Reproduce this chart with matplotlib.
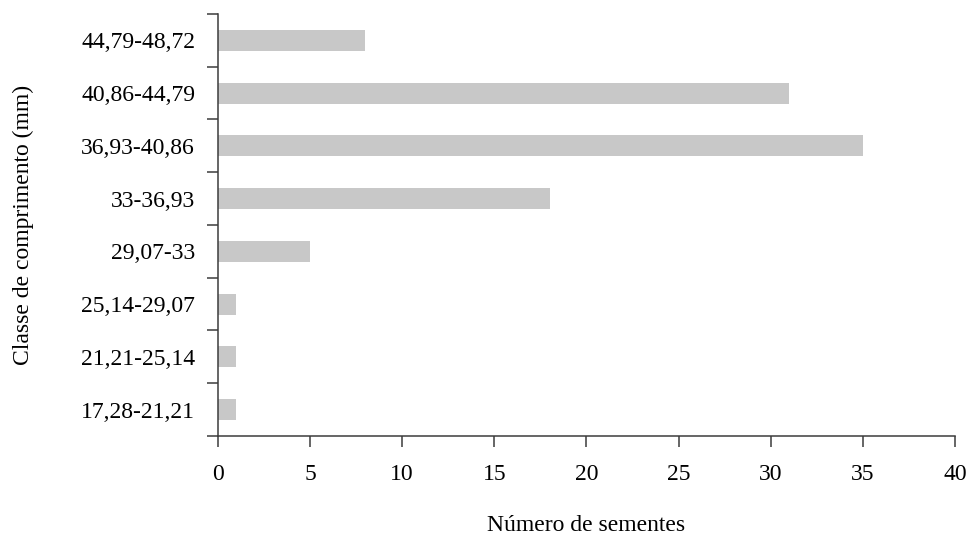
import numpy as np
import matplotlib.pyplot as plt

# classes de comprimento e contagem de sementes
classes = ["17,28-21,21", "21,21-25,14", "25,14-29,07", "29,07-33",
           "33-36,93", "36,93-40,86", "40,86-44,79", "44,79-48,72"]
sementes = [1, 1, 1, 5, 18, 35, 31, 8]
xticks = [0, 5, 10, 15, 20, 25, 30, 35, 40]

plt.rcParams['font.family'] = ['Liberation Serif', 'DejaVu Serif']
fontsize = 17
spine_color = "#3c3c3c"

fig = plt.figure(figsize=(9.67, 5.36), dpi=100)
ax = fig.add_axes([0.2254, 0.1866, 0.7621, 0.7873])

pos = np.arange(len(classes))
ax.barh(pos, sementes, height=0.4, color="#c8c8c8")

ax.set_xlim(0, 40)
ax.set_ylim(-0.5, len(classes) - 0.5)

# ticks nas fronteiras das classes, rótulos no centro
ax.set_yticks(np.arange(len(classes) + 1) - 0.5)
ax.set_yticklabels([])
ax.set_yticks(pos, minor=True)
ax.set_yticklabels(classes, minor=True, fontsize=fontsize)
ax.tick_params(axis="y", which="major", length=8, width=1.1, color=spine_color)
ax.tick_params(axis="y", which="minor", length=0, pad=16.5)

ax.set_xticks(xticks)
ax.set_xticklabels([str(v) for v in xticks], fontsize=fontsize)
ax.tick_params(axis="x", length=8, width=1.1, color=spine_color, pad=12)

for side in ["top", "right"]:
    ax.spines[side].set_visible(False)
for side in ["left", "bottom"]:
    ax.spines[side].set_color(spine_color)
    ax.spines[side].set_linewidth(1.1)

ax.set_xlabel("Número de sementes", fontsize=fontsize, labelpad=22)
ax.set_ylabel("Classe de comprimento (mm)", fontsize=fontsize, labelpad=34)

fig.savefig("out.png", dpi=100)
